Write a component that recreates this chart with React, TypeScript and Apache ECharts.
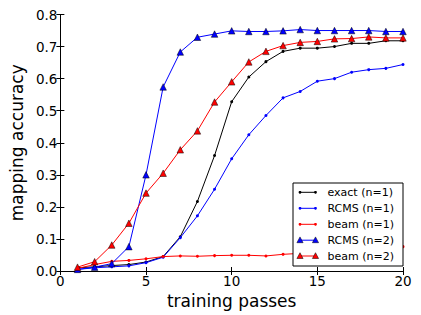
import React, { useEffect, useRef } from "react";
import * as echarts from "echarts";

const passes = [1, 2, 3, 4, 5, 6, 7, 8, 9, 10, 11, 12, 13, 14, 15, 16, 17, 18, 19, 20];
const exact1 = [0.01, 0.013, 0.017, 0.02, 0.028, 0.045, 0.107, 0.217, 0.36, 0.528, 0.605, 0.653, 0.685, 0.695, 0.695, 0.7, 0.71, 0.71, 0.718, 0.718];
const rcms1 = [0.005, 0.01, 0.013, 0.016, 0.026, 0.043, 0.104, 0.172, 0.255, 0.35, 0.425, 0.485, 0.54, 0.56, 0.592, 0.6, 0.62, 0.628, 0.632, 0.644];
const beam1 = [0.008, 0.02, 0.03, 0.033, 0.038, 0.045, 0.047, 0.046, 0.048, 0.049, 0.049, 0.047, 0.052, 0.055, 0.057, 0.06, 0.063, 0.067, 0.072, 0.076];
const rcms2 = [0.005, 0.012, 0.023, 0.076, 0.3, 0.574, 0.683, 0.729, 0.739, 0.749, 0.747, 0.747, 0.749, 0.753, 0.75, 0.75, 0.75, 0.75, 0.747, 0.747];
const beam2 = [0.012, 0.029, 0.081, 0.149, 0.243, 0.305, 0.378, 0.437, 0.527, 0.59, 0.652, 0.685, 0.703, 0.713, 0.716, 0.724, 0.725, 0.73, 0.727, 0.727];

const legendNames = ["exact (n=1)", "RCMS (n=1)", "beam (n=1)", "RCMS (n=2)", "beam (n=2)"];
const xTicks = [0, 5, 10, 15, 20];

const FONT = "DejaVu Sans";

function pairs(vals: number[]) {
  return vals.map((v, i) => [passes[i], v]);
}

export default function App() {
  const ref = useRef<HTMLDivElement>(null);
  useEffect(() => {
    if (!ref.current) return;
    const chart = echarts.init(ref.current, null, { renderer: "svg" });
    const colors = ["#000000", "#0000ff", "#ff0000", "#0000ff", "#ff0000"];
    const isTri = [false, false, false, true, true];
    const datas = [exact1, rcms1, beam1, rcms2, beam2];

    const series = datas.map((d, i) => ({
      type: "line",
      name: legendNames[i],
      data: pairs(d),
      symbol: isTri[i] ? "triangle" : "circle",
      symbolSize: isTri[i] ? 6.5 : 3,
      showSymbol: true,
      lineStyle: { color: colors[i], width: 1 },
      itemStyle: {
        color: colors[i],
        borderColor: isTri[i] ? "#000" : colors[i],
        borderWidth: isTri[i] ? 0.5 : 0,
      },
      z: 2 + i,
    }));

    // legend drawn like matplotlib (markers at both ends of sample line)
    const lx = 293, ly = 183, lw = 110, lh = 83;
    const rowY = [192.3, 208.3, 224.3, 240.2, 256];
    const legendEls: any[] = [
      {
        type: "rect",
        shape: { x: lx, y: ly, width: lw, height: lh },
        style: { fill: "#fff", stroke: "#000", lineWidth: 1 },
        z: 100,
      },
    ];
    legendNames.forEach((name, i) => {
      const y = rowY[i];
      const x1 = 300, x2 = 315.5;
      legendEls.push({
        type: "line",
        shape: { x1, y1: y, x2, y2: y },
        style: { stroke: colors[i], lineWidth: 1 },
        z: 101,
      });
      [x1, x2].forEach((cx) => {
        if (isTri[i]) {
          legendEls.push({
            type: "polygon",
            shape: { points: [[cx, y - 3.3], [cx + 3.1, y + 2.5], [cx - 3.1, y + 2.5]] },
            style: { fill: colors[i], stroke: "#000", lineWidth: 0.5 },
            z: 102,
          });
        } else {
          legendEls.push({
            type: "circle",
            shape: { cx, cy: y, r: 1.4 },
            style: { fill: colors[i] },
            z: 102,
          });
        }
      });
      legendEls.push({
        type: "text",
        x: 327.5,
        y,
        style: {
          text: name,
          fontFamily: FONT,
          fontSize: 11,
          fill: "#000",
          verticalAlign: "middle",
          align: "left",
        },
        z: 102,
      });
    });

    const tickCommon = { show: true, inside: true, length: 4, lineStyle: { color: "#000", width: 1 } };

    chart.setOption({
      animation: false,
      backgroundColor: "#fff",
      grid: { left: 55, right: 18, top: 14.5, bottom: 44, containLabel: false },
      xAxis: [
        {
          type: "value",
          min: 0,
          max: 20,
          interval: 5,
          name: "training passes",
          nameLocation: "middle",
          nameGap: 16,
          nameTextStyle: { fontFamily: FONT, fontSize: 17, color: "#000" },
          axisLine: { show: true, onZero: false, lineStyle: { color: "#000", width: 1 } },
          axisTick: tickCommon,
          axisLabel: {
            fontFamily: FONT,
            fontSize: 13.5,
            color: "#000",
            margin: 3,
            formatter: (v: number) => (xTicks.includes(v) ? String(v) : ""),
          },
          splitLine: { show: false },
        },
        {
          type: "value",
          position: "top",
          min: 0,
          max: 20,
          interval: 5,
          axisLine: { show: true, lineStyle: { color: "#000", width: 1 } },
          axisTick: tickCommon,
          axisLabel: { show: false },
          splitLine: { show: false },
        },
      ],
      yAxis: [
        {
          type: "value",
          min: 0,
          max: 0.8,
          interval: 0.1,
          name: "mapping accuracy",
          nameLocation: "middle",
          nameGap: 27,
          nameRotate: 90,
          nameTextStyle: { fontFamily: FONT, fontSize: 17, color: "#000" },
          axisLine: { show: true, onZero: false, lineStyle: { color: "#000", width: 1 } },
          axisTick: tickCommon,
          axisLabel: {
            fontFamily: FONT,
            fontSize: 13.5,
            color: "#000",
            margin: 3,
            formatter: (v: number) => v.toFixed(1),
          },
          splitLine: { show: false },
        },
        {
          type: "value",
          position: "right",
          min: 0,
          max: 0.8,
          interval: 0.1,
          axisLine: { show: true, lineStyle: { color: "#000", width: 1 } },
          axisTick: tickCommon,
          axisLabel: { show: false },
          splitLine: { show: false },
        },
      ],
      series,
      graphic: legendEls,
    });
    return () => chart.dispose();
  }, []);
  return (
    <div
      ref={ref}
      style={{ position: "fixed", left: 0, top: 0, width: 421, height: 315 }}
    />
  );
}
